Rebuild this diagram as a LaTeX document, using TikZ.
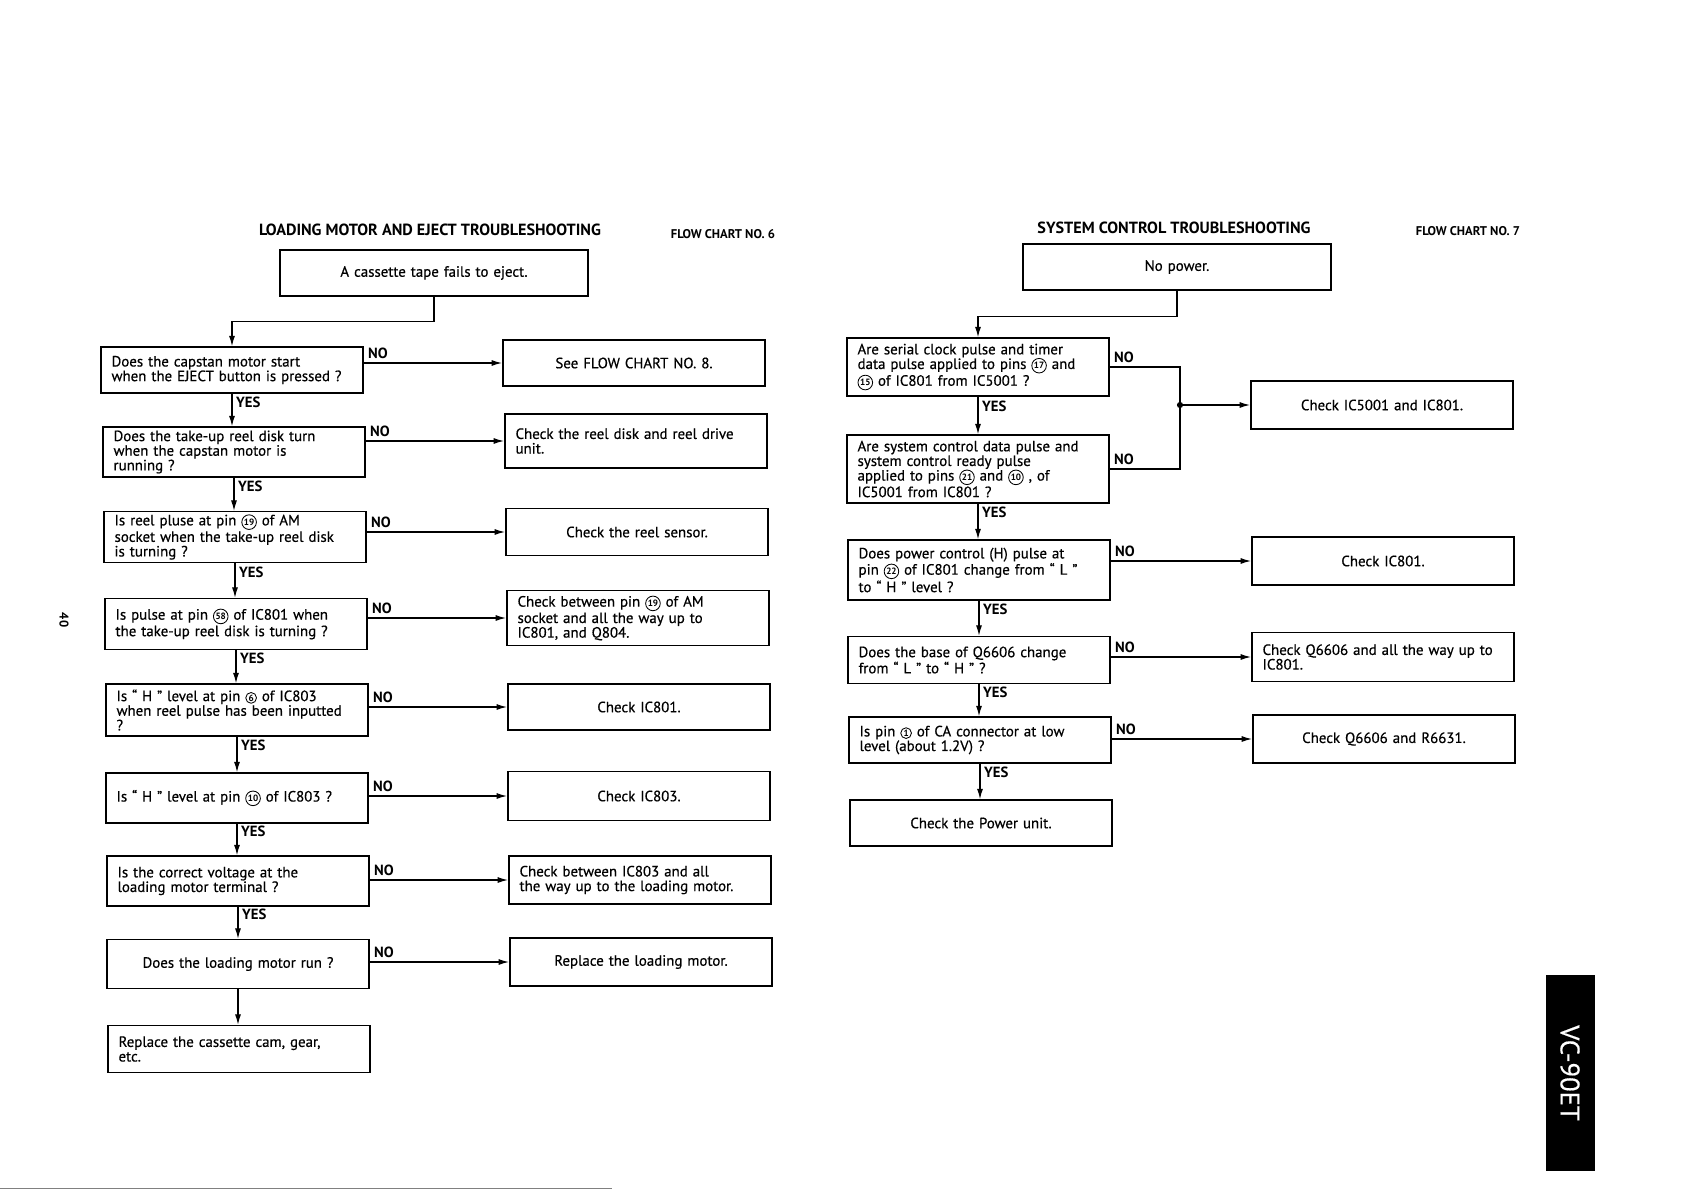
\documentclass[tikz,border=0pt]{standalone}
\usepackage{fontspec}
\setmainfont{PT Sans}[UprightFeatures={FakeBold=0.5}]
\usetikzlibrary{arrows.meta}
\hyphenpenalty=10000

% circled pin number
\newcommand{\pin}[1]{\tikz[baseline=(pn.base)]\node[draw,circle,minimum size=0pt,inner sep=0.6pt,line width=0.6pt,font=\fontsize{6.5}{6.5}\selectfont\bfseries] (pn) {#1};}

\begin{document}
\begin{tikzpicture}[x=0.025cm,y=-0.025cm,
  box/.style={draw,line width=1.1pt,text width=6.02cm,inner xsep=0.27cm,inner ysep=2pt,align=left,font=\fontsize{10.6}{10.4}\selectfont},
  cbox/.style={box,align=center},
  wide/.style={cbox,text width=7.16cm},
  ht/.style={minimum height=#1*0.025cm},
  ttl/.style={font=\fontsize{11.5}{12}\selectfont\bfseries},
  fcno/.style={font=\fontsize{9}{9}\selectfont\bfseries},
  lbl/.style={font=\fontsize{10.5}{10}\selectfont\bfseries,inner sep=2.5pt},
  arr/.style={line width=0.8pt,-{Latex[length=2.6mm,width=1.5mm]}}]
\useasboundingbox (0,0) rectangle (1683,1191);

% loading motor and eject
\node[ttl] (t6) at (430,230) {LOADING MOTOR AND EJECT TROUBLESHOOTING};
\node[fcno] (f6) at (723,234) {FLOW CHART NO. 6};
\node[wide,ht=46] (st6) at (434,273) {A cassette tape fails to eject.};

\node[box,ht=46] (q1) at (232,370) {Does the capstan motor start\\when the EJECT button is pressed ?};
\node[box,ht=50] (q2) at (234,452) {Does the take-up reel disk turn\\when the capstan motor is\\running ?};
\node[box,ht=49] (q3) at (235,537) {Is reel pluse at pin \pin{19} of AM\\socket when the take-up reel disk\\is turning ?};
\node[box,ht=51] (q4) at (236,624) {Is pulse at pin \pin{58} of IC801 when\\the take-up reel disk is turning ?};
\node[box,ht=52] (q5) at (237,710) {Is “ H ” level at pin \pin{6} of IC803\\when reel pulse has been inputted\\?};
\node[box,ht=50] (q6) at (237,798) {Is “ H ” level at pin \pin{10} of IC803 ?};
\node[box,ht=50] (q7) at (238,881) {Is the correct voltage at the\\loading motor terminal ?};
\node[cbox,ht=49] (q8) at (238,964) {Does the loading motor run ?};
\node[box,ht=47] (q9) at (239,1049) {Replace the cassette cam, gear,\\etc.};

\node[cbox,ht=46] (r1) at (634,363) {See FLOW CHART NO. 8.};
\node[box,ht=54] (r2) at (636,441) {Check the reel disk and reel drive\\unit.};
\node[cbox,ht=47] (r3) at (637,532) {Check the reel sensor.};
\node[box,ht=55] (r4) at (638,618) {Check between pin \pin{19} of AM\\socket and all the way up to\\IC801, and Q804.};
\node[cbox,ht=46] (r5) at (639,707) {Check IC801.};
\node[cbox,ht=49] (r6) at (639,796) {Check IC803.};
\node[box,ht=48] (r7) at (640,880) {Check between IC803 and all\\the way up to the loading motor.};
\node[cbox,ht=48] (r8) at (641,962) {Replace the loading motor.};

% links
\draw[arr] (st6.south) -- ++(0,25) -| (q1.north);
\foreach \a/\b in {q1/q2,q2/q3,q3/q4,q4/q5,q5/q6,q6/q7,q7/q8}
  \draw[arr] (\a.south) -- node[lbl,pos=0.25,anchor=west] {YES} (\a.south |- \b.north);
\draw[arr] (q8.south) -- (q8.south |- q9.north);
\foreach \a/\b in {q1/r1,q2/r2,q3/r3,q4/r4,q5/r5,q6/r6,q7/r7,q8/r8}
  \draw[arr] (\a.east |- \b.west) -- node[lbl,pos=0,anchor=south west] {NO} (\b.west);

% system control
\node[ttl] (t7) at (1174,228) {SYSTEM CONTROL TROUBLESHOOTING};
\node[fcno] (f7) at (1468,231) {FLOW CHART NO. 7};
\node[wide,ht=46] (st7) at (1177,267) {No power.};

\node[box,ht=58] (s1) at (978,367) {Are serial clock pulse and timer\\data pulse applied to pins \pin{17} and\\\pin{15} of IC801 from IC5001 ?};
\node[box,ht=68] (s2) at (978,469) {Are system control data pulse and\\system control ready pulse\\applied to pins \pin{21} and \pin{10} , of\\IC5001 from IC801 ?};
\node[box,ht=60] (s3) at (979,570) {Does power control (H) pulse at\\pin \pin{22} of IC801 change from “ L ”\\to “ H ” level ?};
\node[box,ht=47] (s4) at (979,660) {Does the base of Q6606 change\\from “ L ” to “ H ” ?};
\node[box,ht=46] (s5) at (980,740) {Is pin \pin{1} of CA connector at low\\level (about 1.2V) ?};
\node[cbox,ht=46] (s6) at (981,823) {Check the Power unit.};

\node[cbox,ht=48] (u1) at (1382,405) {Check IC5001 and IC801.};
\node[cbox,ht=48] (u3) at (1383,561) {Check IC801.};
\node[box,ht=49] (u4) at (1383,657) {Check Q6606 and all the way up to\\IC801.};
\node[cbox,ht=48] (u5) at (1384,739) {Check Q6606 and R6631.};

% links
\draw[arr] (st7.south) -- ++(0,26) -| (s1.north);
\foreach \a/\b in {s1/s2,s2/s3,s3/s4,s4/s5,s5/s6}
  \draw[arr] (\a.south) -- node[lbl,pos=0.25,anchor=west] {YES} (\a.south |- \b.north);
\coordinate (jn) at (1180,405);
\draw[line width=0.8pt] (s1.east) -- node[lbl,pos=0,anchor=south west] {NO} (s1.east -| jn) -- (s2.east -| jn)
  -- (s2.east) node[lbl,anchor=south west] {NO};
\fill (jn) circle (2.2pt);
\draw[arr] (jn) -- (u1.west);
\foreach \a/\b in {s3/u3,s4/u4,s5/u5}
  \draw[arr] (\a.east |- \b.west) -- node[lbl,pos=0,anchor=south west] {NO} (\b.west);

% page marks
\node[font=\fontsize{9}{9}\selectfont\bfseries,rotate=-90] (pg) at (64,620) {40};
\node[fill=black,minimum width=49*0.025cm,minimum height=196*0.025cm,inner sep=0pt] (tab) at (1570,1073) {};
\node[text=white,rotate=-90,font=\fontsize{19}{19}\selectfont] (vc) at (tab.center) {VC-90ET};
\draw[gray,line width=0.6pt] (0,1188) -- (612,1188);
\end{tikzpicture}
\end{document}
